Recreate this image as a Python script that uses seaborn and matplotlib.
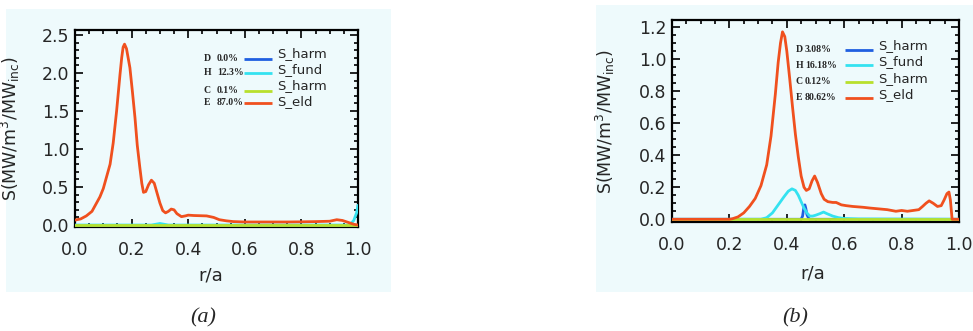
import matplotlib
matplotlib.use("Agg")
import matplotlib.pyplot as plt
from matplotlib.patches import Rectangle
from matplotlib.ticker import MultipleLocator, AutoMinorLocator, FormatStrFormatter
import seaborn as sns

# ---------------- panel (a) ----------------
a_eld_x = [0.00, 0.02, 0.04, 0.06, 0.088, 0.10, 0.124, 0.135, 0.147, 0.159, 0.165, 0.170,
           0.175, 0.182, 0.194, 0.203, 0.212, 0.220, 0.229, 0.236, 0.242, 0.250, 0.260,
           0.270, 0.280, 0.290, 0.300, 0.310, 0.320, 0.330, 0.340, 0.350, 0.360, 0.376,
           0.390, 0.400, 0.420, 0.465, 0.490, 0.510, 0.535, 0.560, 0.600, 0.650, 0.700,
           0.750, 0.800, 0.850, 0.900, 0.925, 0.945, 0.965, 0.985, 1.000]
a_eld_y = [0.065, 0.08, 0.12, 0.18, 0.37, 0.48, 0.80, 1.08, 1.50, 1.98, 2.20, 2.34,
           2.38, 2.32, 2.07, 1.75, 1.41, 1.05, 0.76, 0.55, 0.43, 0.44, 0.53,
           0.59, 0.55, 0.42, 0.29, 0.19, 0.16, 0.18, 0.21, 0.20, 0.15, 0.11,
           0.12, 0.13, 0.125, 0.12, 0.10, 0.07, 0.055, 0.045, 0.04, 0.04, 0.04,
           0.04, 0.042, 0.045, 0.05, 0.07, 0.06, 0.035, 0.01, 0.0]
a_fund_x = [0.00, 0.27, 0.30, 0.33, 0.97, 0.985, 0.995, 1.00]
a_fund_y = [0.00, 0.00, 0.02, 0.00, 0.00, 0.06, 0.16, 0.26]
a_hd_x = [0.0, 1.0]
a_hd_y = [0.0, 0.0]
a_hc_x = [0.0, 1.0]
a_hc_y = [0.0, 0.0]
a_species = ["D", "H", "C", "E"]
a_shares = ["0.0%", "12.3%", "0.1%", "87.0%"]

# ---------------- panel (b) ----------------
b_eld_x = [0.00, 0.20, 0.21, 0.23, 0.25, 0.27, 0.29, 0.31, 0.33, 0.345, 0.36, 0.37,
           0.378, 0.385, 0.393, 0.40, 0.41, 0.42, 0.43, 0.44, 0.45, 0.46, 0.468,
           0.478, 0.488, 0.497, 0.507, 0.52, 0.53, 0.543, 0.56, 0.572, 0.59, 0.607,
           0.63, 0.665, 0.69, 0.72, 0.75, 0.78, 0.80, 0.82, 0.84, 0.86, 0.873,
           0.885, 0.896, 0.91, 0.925, 0.938, 0.948, 0.958, 0.965, 0.970, 0.976, 1.00]
b_eld_y = [0.00, 0.00, 0.003, 0.015, 0.04, 0.08, 0.13, 0.21, 0.34, 0.52, 0.78, 0.98,
           1.10, 1.17, 1.14, 1.05, 0.88, 0.70, 0.53, 0.39, 0.27, 0.20, 0.18,
           0.19, 0.24, 0.27, 0.23, 0.16, 0.125, 0.11, 0.105, 0.105, 0.09, 0.085,
           0.08, 0.075, 0.07, 0.065, 0.06, 0.05, 0.055, 0.05, 0.055, 0.06, 0.08,
           0.10, 0.115, 0.10, 0.08, 0.085, 0.12, 0.16, 0.17, 0.12, 0.0, 0.0]
b_fund_x = [0.00, 0.31, 0.33, 0.35, 0.37, 0.39, 0.405, 0.418, 0.43, 0.44, 0.45, 0.46,
            0.47, 0.48, 0.49, 0.50, 0.515, 0.528, 0.54, 0.56, 0.58, 0.60, 0.65, 1.00]
b_fund_y = [0.00, 0.00, 0.01, 0.04, 0.09, 0.14, 0.175, 0.19, 0.18, 0.15, 0.11, 0.07,
            0.04, 0.02, 0.02, 0.025, 0.035, 0.045, 0.035, 0.02, 0.01, 0.005, 0.002, 0.0]
b_hd_x = [0.00, 0.45, 0.455, 0.46, 0.463, 0.466, 0.47, 0.475, 0.48, 1.00]
b_hd_y = [0.00, 0.00, 0.02, 0.08, 0.09, 0.07, 0.03, 0.01, 0.00, 0.00]
b_hc_x = [0.0, 1.0]
b_hc_y = [0.0, 0.0]
b_species = ["D", "H", "C", "E"]
b_shares = ["3.08%", "16.18%", "0.12%", "80.62%"]

series_names = ["S_harm", "S_fund", "S_harm", "S_eld"]
colors = ["#1f5fe0", "#34e2f0", "#b8e02c", "#f0501e"]
panel_bg = "#eefafc"

sns.set_style("ticks")
plt.rcParams["font.family"] = ["DejaVu Sans"]

W, H = 973, 331
fig = plt.figure(figsize=(W / 100, H / 100), dpi=100, facecolor="white")


def px_rect(x0, y0, x1, y1):
    return [x0 / W, 1 - y1 / H, (x1 - x0) / W, (y1 - y0) / H]


# light panel backgrounds, kept behind the axes
for (x0, y0, x1, y1) in [(6, 9, 391, 292), (596, 5, 973, 292)]:
    r = px_rect(x0, y0, x1, y1)
    fig.patches.append(Rectangle((r[0], r[1]), r[2], r[3], transform=fig.transFigure,
                                 facecolor=panel_bg, edgecolor="none", zorder=-10))

ax_a = fig.add_axes(px_rect(75, 30, 358, 227))
ax_b = fig.add_axes(px_rect(672, 20, 959, 222))
for ax in (ax_a, ax_b):
    ax.set_zorder(1)


def draw_panel(ax, curves, ylim, ymajor, yminor, species, shares, leg):
    for (xs, ys), c in zip(curves, colors):
        sns.lineplot(x=xs, y=ys, ax=ax, color=c, lw=2.0, sort=False,
                     estimator=None, zorder=3)
    ax.set_facecolor(panel_bg)
    ax.set_xlim(0, 1)
    ax.set_ylim(*ylim)
    ax.xaxis.set_major_locator(MultipleLocator(0.2))
    ax.xaxis.set_minor_locator(AutoMinorLocator(4))
    ax.yaxis.set_major_locator(MultipleLocator(ymajor))
    ax.yaxis.set_minor_locator(AutoMinorLocator(yminor))
    ax.xaxis.set_major_formatter(FormatStrFormatter("%.1f"))
    ax.yaxis.set_major_formatter(FormatStrFormatter("%.1f"))
    ax.tick_params(which="both", direction="in", top=True, right=True,
                   color="black", width=1.2)
    ax.tick_params(which="major", length=6)
    ax.tick_params(which="minor", length=3)
    ax.tick_params(axis="x", which="major", pad=10, labelsize=12.5)
    ax.tick_params(axis="y", which="major", pad=4, labelsize=12.5)
    for s in ax.spines.values():
        s.set_linewidth(1.6)
        s.set_color("black")
        s.set_visible(True)
    ax.set_xlabel("r/a", fontsize=13)
    ax.set_ylabel(r"S(MW/m$^3$/MW$_{\mathrm{inc}}$)", fontsize=12.5)

    # species / power-share key
    (x_sp, x_val, x_l0, x_l1, x_name, rows, name_rows) = leg
    for i in range(4):
        y = rows[i]
        ax.text(x_sp, y, species[i], transform=ax.transAxes, fontsize=7,
                fontweight="bold", family="Liberation Serif", va="center", ha="left")
        ax.text(x_val, y, shares[i], transform=ax.transAxes, fontsize=7,
                fontweight="bold", family="Liberation Serif", va="center", ha="left")
        ax.plot([x_l0, x_l1], [y, y], transform=ax.transAxes, color=colors[i],
                lw=2.0, solid_capstyle="butt")
        ax.text(x_name, name_rows[i], series_names[i], transform=ax.transAxes,
                fontsize=9.5, va="center", ha="left")


def fx(px, left, width):
    return (px - left) / width


def fy(py, top, height):
    return 1 - (py - top) / height


leg_a = (fx(204, 75, 283), fx(217, 75, 283), fx(244, 75, 283), fx(272, 75, 283),
         fx(277, 75, 283), [fy(v, 30, 197) for v in (59, 73, 91, 103)],
         [fy(v, 30, 197) for v in (54, 69.5, 86, 101.5)])
leg_b = (fx(796, 672, 287), fx(805, 672, 287), fx(845, 672, 287), fx(873, 672, 287),
         fx(878, 672, 287), [fy(v, 20, 202) for v in (50, 65, 82, 98)],
         [fy(v, 20, 202) for v in (45.5, 61.5, 78.5, 94.5)])

draw_panel(ax_a,
           [(a_hd_x, a_hd_y), (a_fund_x, a_fund_y), (a_hc_x, a_hc_y), (a_eld_x, a_eld_y)],
           (-0.026, 2.566), 0.5, 5, a_species, a_shares, leg_a)
draw_panel(ax_b,
           [(b_hd_x, b_hd_y), (b_fund_x, b_fund_y), (b_hc_x, b_hc_y), (b_eld_x, b_eld_y)],
           (-0.017, 1.244), 0.2, 4, b_species, b_shares, leg_b)

ax_a.yaxis.set_label_coords(-0.187, 0.5)
ax_a.xaxis.set_label_coords(0.48, -0.20)
ax_b.yaxis.set_label_coords(-0.19, 0.497)
ax_b.xaxis.set_label_coords(0.49, -0.21)

fig.text(203 / W, 1 - 318 / H, "(a)", family="Liberation Serif", style="italic",
         fontsize=16, ha="center", va="center")
fig.text(795 / W, 1 - 318 / H, "(b)", family="Liberation Serif", style="italic",
         fontsize=16, ha="center", va="center")

fig.savefig("out.png", dpi=100, facecolor="white")
